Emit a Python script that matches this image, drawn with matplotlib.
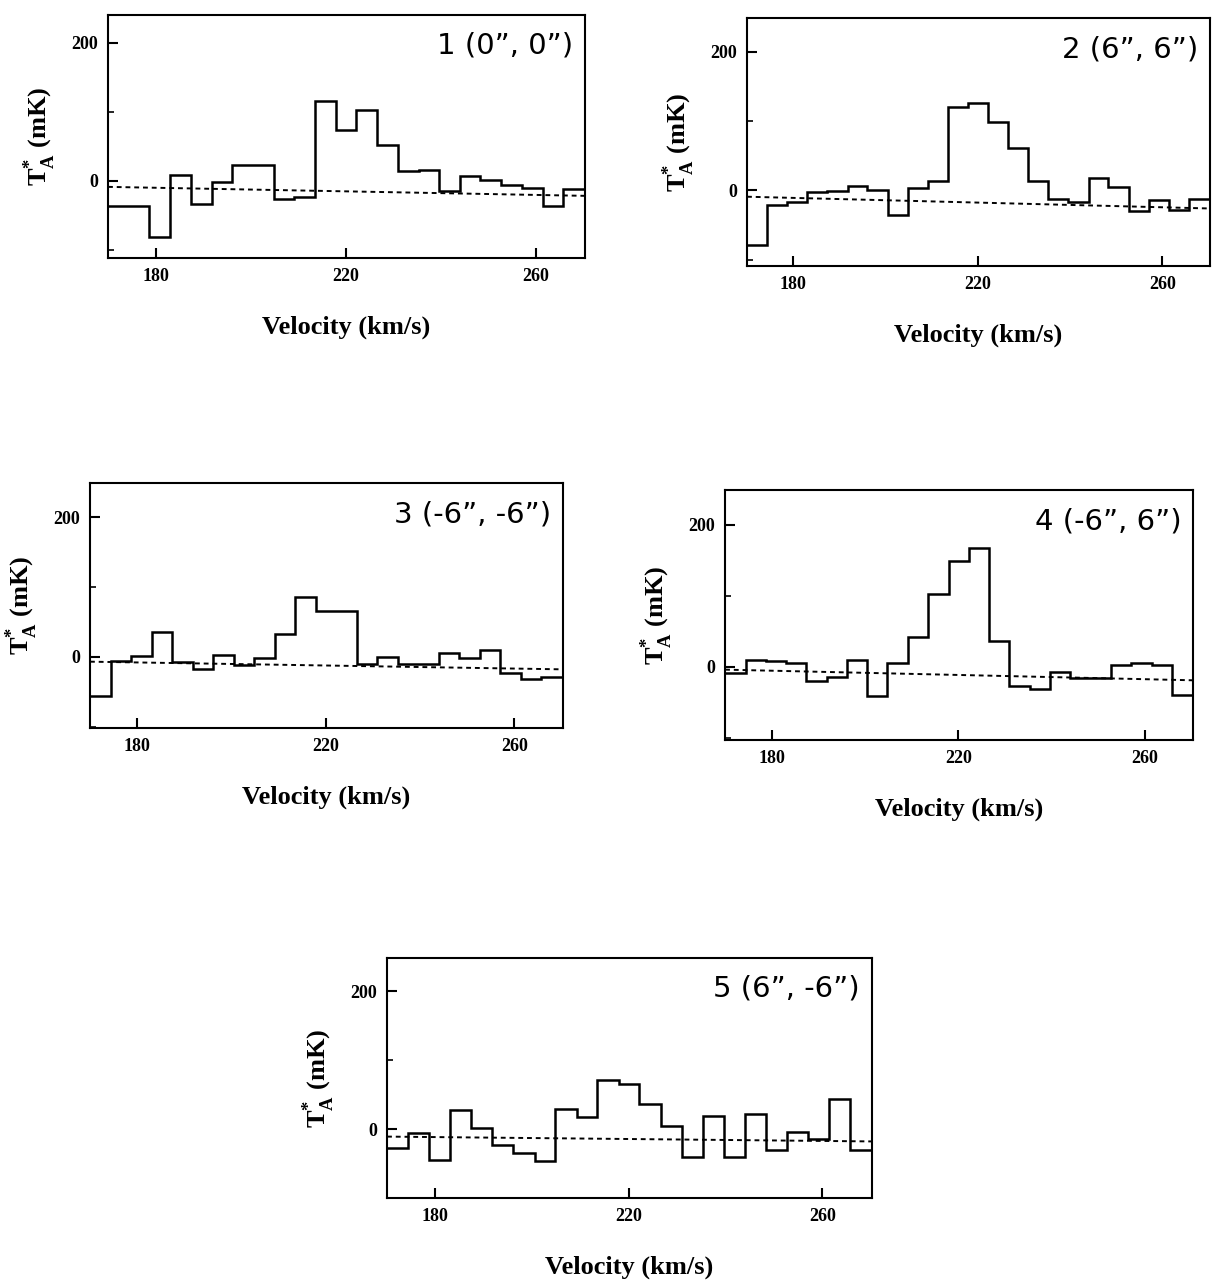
import numpy as np
import matplotlib
matplotlib.use('Agg')
import matplotlib.pyplot as plt

# channel edges (km/s), shared by all five spectra
vel_edges = [170.0, 174.4, 178.7, 183.1, 187.4, 191.8, 196.1, 200.5, 204.8, 209.2,
             213.5, 217.9, 222.2, 226.6, 230.9, 235.3, 239.6, 244.0, 248.3, 252.7,
             257.0, 261.4, 265.7, 270.3]

# antenna temperature per channel (mK)
spec1 = [-37, -37, -82, 8, -34, -2, 23, 23, -27, -23, 116, 73, 102, 51, 14, 16,
         -15, 7, 1, -7, -10, -37, -12]
spec2 = [-78, -21, -16, -2, -1, 7, 0, -36, 3, 13, 121, 127, 99, 61, 14, -12,
         -16, 18, 5, -29, -14, -28, -12]
spec3 = [-56, -6, 1, 36, -7, -18, 3, -12, -2, 33, 85, 65, 65, -10, -1, -11,
         -10, 6, -2, 10, -23, -32, -29]
spec4 = [-9, 10, 8, 5, -20, -14, 10, -41, 5, 42, 102, 149, 167, 36, -27, -31,
         -7, -16, -16, 3, 6, 2, -39]
spec5 = [-27, -6, -45, 28, 1, -23, -35, -47, 29, 18, 71, 65, 37, 5, -40, 19,
         -40, 22, -30, -5, -14, 44, -30]

# fitted baseline (mK) at the left and right edge of each panel
base1 = [-9, -22]
base2 = [-9, -26]
base3 = [-7, -18]
base4 = [-4, -19]
base5 = [-11, -18]

titles = ["1 (0\u201d, 0\u201d)", "2 (6\u201d, 6\u201d)", "3 (-6\u201d, -6\u201d)",
          "4 (-6\u201d, 6\u201d)", "5 (6\u201d, -6\u201d)"]
ylims = [(-112, 240), (-109, 249), (-102, 249), (-103, 249), (-99, 248)]

# axes boxes in figure fractions [left, bottom, width, height]
boxes = [[0.0886, 0.7997, 0.3913, 0.1887],
         [0.6128, 0.7935, 0.3798, 0.1925],
         [0.0738, 0.4348, 0.3880, 0.1902],
         [0.5948, 0.4255, 0.3839, 0.1941],
         [0.3175, 0.0699, 0.3979, 0.1863]]

serif = ['Liberation Serif', 'DejaVu Serif']
plt.rcParams['font.family'] = serif

fig = plt.figure(figsize=(12.19, 12.88), dpi=100)

spectra = [spec1, spec2, spec3, spec4, spec5]
bases = [base1, base2, base3, base4, base5]

for i in range(5):
    ax = fig.add_axes(boxes[i])
    ax.stairs(spectra[i], vel_edges, baseline=None, color='black', lw=1.8)
    x0, x1 = vel_edges[0], vel_edges[-1]
    ax.plot([x0, x1], bases[i], color='black', lw=1.4, ls=(0, (2.5, 2)))
    ax.set_xlim(x0, x1)
    ax.set_ylim(*ylims[i])
    ax.set_xticks([180, 220, 260])
    ax.set_yticks([0, 200])
    ax.set_yticks([-100, 100], minor=True)
    ax.tick_params(direction='in', length=7, width=1.5, labelsize=13, pad=7)
    ax.tick_params(which='minor', direction='in', length=4, width=1.2)
    for lab in ax.get_xticklabels() + ax.get_yticklabels():
        lab.set_fontweight('bold')
    for sp in ax.spines.values():
        sp.set_linewidth(1.5)
    ax.text(0.975, 0.93, titles[i], transform=ax.transAxes, ha='right', va='top',
            fontsize=21, family=['DejaVu Sans'])
    ax.set_xlabel('Velocity (km/s)', fontsize=19, fontweight='bold', labelpad=22)
    ax.set_ylabel(r'T$_{\mathregular{A}}^{\mathregular{*}}$ (mK)', fontsize=19,
                  fontweight='bold', labelpad=10)

fig.savefig('out.png', dpi=100)
